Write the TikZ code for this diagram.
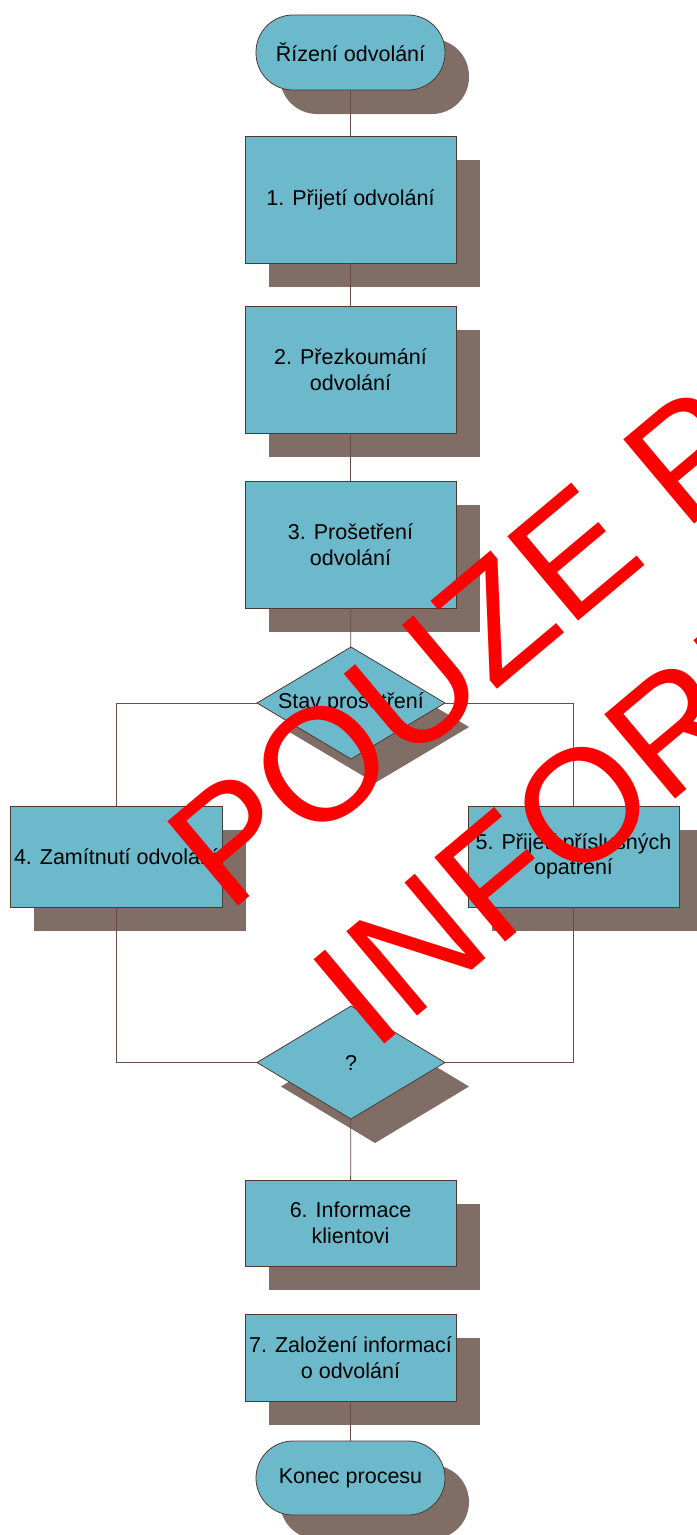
\documentclass[tikz,border=0pt]{standalone}
\usepackage{fontspec}
\setmainfont{Liberation Sans}
\usetikzlibrary{shapes.geometric,shadows}
\definecolor{boxfill}{HTML}{6CB9CB}
\definecolor{shadowcol}{HTML}{7F6D66}
\definecolor{bordercol}{HTML}{4F3A33}
\definecolor{linecol}{HTML}{6B4D45}
\tikzset{
  shadowed/.style={general shadow={fill=shadowcol, shadow xshift=24bp, shadow yshift=-24bp}},
  base/.style={draw=bordercol, line width=0.8bp, fill=boxfill, shadowed, inner sep=0pt, outer sep=0pt,
    align=center, font=\fontsize{21.5bp}{25.5bp}\selectfont},
  stepbox/.style={base, rectangle, minimum width=211bp},
  terminal/.style={base, rectangle, rounded corners=37bp, minimum width=189bp, minimum height=75bp},
  decision/.style={base, diamond, minimum width=188bp, minimum height=112bp, shape aspect=1.68},
  conn/.style={draw=linecol, line width=0.8bp},
  watermark/.style={rotate=40, anchor=base, text=red, inner sep=0pt, font=\fontsize{160bp}{192bp}\selectfont}
}
\begin{document}
\begin{tikzpicture}[x=1bp, y=-1bp]
\useasboundingbox (0,0) rectangle (697,1535);
\clip (0,0) rectangle (697,1535);
\fill[white] (0,0) rectangle (697,1535);

\node[terminal] (start) at (350.5,52.5) {Řízení odvolání};
\node[stepbox, minimum height=127bp] (b1) at (350.5,199.5) {1. Přijetí odvolání};
\node[stepbox, minimum height=127bp] (b2) at (350.5,369.5) {2. Přezkoumání\\odvolání};
\node[stepbox, minimum height=127bp] (b3) at (350.5,544.5) {3. Prošetření\\odvolání};
\node[decision] (d1) at (351,703) {Stav prošetření};
\node[stepbox, minimum width=212bp, minimum height=101bp] (b4) at (116,856.5) {4. Zamítnutí odvolání};
\node[stepbox, minimum height=101bp] (b5) at (573.5,856.5) {5. Přijetí příslušných\\opatření};
\node[decision, minimum height=113bp] (d2) at (351,1062.5) {?};
\node[stepbox, minimum height=86bp] (b6) at (350.5,1223) {6. Informace\\klientovi};
\node[stepbox, minimum height=87bp] (b7) at (350.5,1357.5) {7. Založení informací\\o odvolání};
\node[terminal, minimum height=74bp] (end) at (350.5,1478) {Konec procesu};

\draw[conn] (start) -- (b1);
\draw[conn] (b1) -- (b2);
\draw[conn] (b2) -- (b3);
\draw[conn] (b3) -- (d1);
\draw[conn] (d1.west) -| (b4.north);
\draw[conn] (d1.east) -| (b5.north);
\draw[conn] (b4.south) |- (d2.west);
\draw[conn] (b5.south) |- (d2.east);
\draw[conn] (d2) -- (b6);
\draw[conn] (b7) -- (end);

\node[watermark] (wm1) at (589,612) {POUZE PRO};
\node[watermark] (wm2) at (717,765) {INFORMACI};
\end{tikzpicture}
\end{document}
